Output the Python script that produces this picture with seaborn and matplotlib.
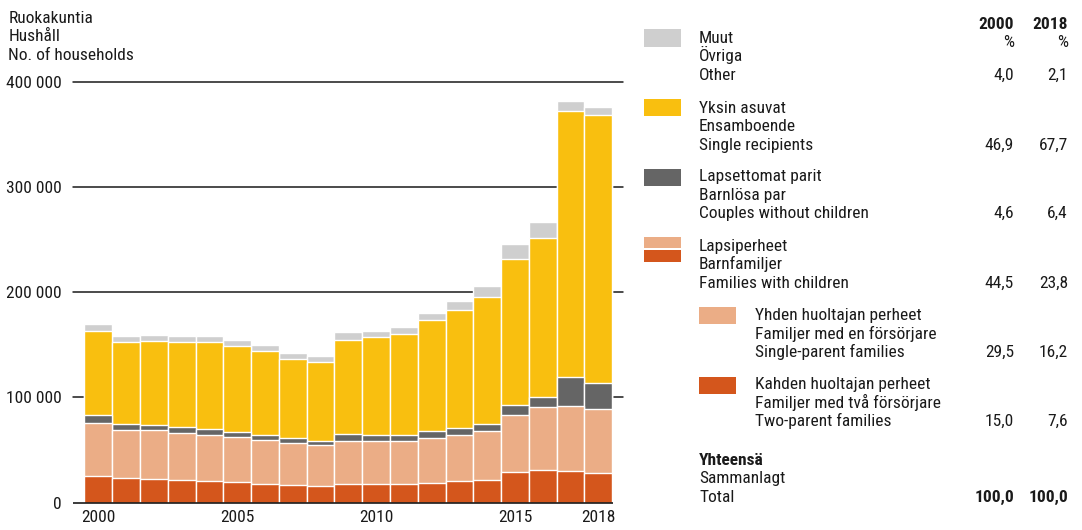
import matplotlib
matplotlib.use("Agg")
import matplotlib.pyplot as plt
from matplotlib import font_manager as fm
from matplotlib.patches import Rectangle
import seaborn as sns
import pandas as pd
import numpy as np

# ---------------- data ----------------
years = list(range(2000, 2019))
two_parent = [25.4, 23.4, 22.8, 21.9, 20.6, 19.3, 17.7, 16.5, 15.8, 17.7, 17.7, 17.4, 19.0, 20.3, 21.9, 28.8, 31.0, 30.4, 28.2]
single_parent = [50.2, 46.0, 45.9, 44.3, 44.0, 43.1, 41.8, 40.2, 39.0, 41.2, 40.9, 41.2, 42.4, 44.3, 46.5, 54.8, 59.6, 61.8, 61.1]
couples = [7.8, 5.7, 5.4, 5.7, 5.7, 4.7, 5.1, 4.7, 4.1, 6.3, 5.4, 5.7, 6.4, 6.3, 6.7, 9.2, 9.8, 26.9, 24.4]
singles = [79.7, 77.6, 79.2, 80.4, 82.4, 81.4, 79.5, 75.4, 75.1, 89.7, 93.4, 96.3, 105.7, 111.8, 120.3, 139.0, 151.4, 253.0, 254.9]
other = [6.8, 5.3, 6.0, 6.4, 6.0, 6.1, 5.7, 5.1, 5.0, 6.9, 6.0, 6.3, 6.7, 9.2, 10.1, 14.3, 15.2, 9.2, 7.4]
unit = 1000  # values above are in thousands of households

xtick_years = ["2000", "2005", "2010", "2015", "2018"]
ytick_values = [0, 100000, 200000, 300000, 400000]
ytick_labels = ["0", "100 000", "200 000", "300 000", "400 000"]
axis_title = ["Ruokakuntia", "Hushåll", "No. of households"]

legend_fi = ["Muut", "Yksin asuvat", "Lapsettomat parit", "Lapsiperheet",
             "Yhden huoltajan perheet", "Kahden huoltajan perheet"]
legend_sv = ["Övriga", "Ensamboende", "Barnlösa par", "Barnfamiljer",
             "Familjer med en försörjare", "Familjer med två försörjare"]
legend_en = ["Other", "Single recipients", "Couples without children",
             "Families with children", "Single-parent families", "Two-parent families"]
pct_2000 = ["4,0", "46,9", "4,6", "44,5", "29,5", "15,0"]
pct_2018 = ["2,1", "67,7", "6,4", "23,8", "16,2", "7,6"]
col_headers = ["2000", "2018"]
total_labels = ["Yhteensä", "Sammanlagt", "Total"]
total_values = ["100,0", "100,0"]

# ---------------- style ----------------
C_TWO = "#D4561C"
C_SP = "#EBAD86"
C_CPL = "#656565"
C_SGL = "#F9BF0F"
C_OTH = "#CFCFCF"
TXT = "#1a1a1a"

sns.set_theme(style="white")
names = {f.name for f in fm.fontManager.ttflist}
font = "Liberation Sans"
for cand in ["Liberation Sans Narrow", "Roboto Condensed", "DejaVu Sans Condensed",
             "Open Sans Condensed", "Liberation Sans"]:
    if cand in names:
        font = cand
        break
plt.rcParams["font.family"] = [font, "DejaVu Sans"]
FS = 12.5

W, H = 1082, 530
fig = plt.figure(figsize=(W / 100, H / 100), dpi=100)

# axes placement in pixels
ax_left, ax_right, ax_top, ax_bottom = 73, 623, 81.7, 502.7
ax = fig.add_axes([ax_left / W, 1 - ax_bottom / H, (ax_right - ax_left) / W, (ax_bottom - ax_top) / H])

df = pd.DataFrame({
    "year": [str(y) for y in years],
    "two": np.array(two_parent) * unit,
    "sp": np.array(single_parent) * unit,
    "cpl": np.array(couples) * unit,
    "sgl": np.array(singles) * unit,
    "oth": np.array(other) * unit,
})
df["c_two"] = df["two"]
df["c_sp"] = df["c_two"] + df["sp"]
df["c_cpl"] = df["c_sp"] + df["cpl"]
df["c_sgl"] = df["c_cpl"] + df["sgl"]
df["c_oth"] = df["c_sgl"] + df["oth"]

layers = [("c_oth", C_OTH), ("c_sgl", C_SGL), ("c_cpl", C_CPL), ("c_sp", C_SP), ("c_two", C_TWO)]
for col, color in layers:
    sns.barplot(data=df, x="year", y=col, color=color, saturation=1, width=1.0,
                edgecolor="white", linewidth=1.0, errorbar=None, ax=ax, zorder=2)

# pixel -> data conversions for x
spacing = (598.3 - 98.3) / 18
xl = -(98.3 - ax_left) / spacing
xr = 18 + (ax_right - 598.3) / spacing
ax.set_xlim(xl, xr)
ax.set_ylim(0, 400000)

for v in ytick_values[1:]:
    ax.axhline(v, color=TXT, lw=1.1, zorder=0.5, clip_on=False)
ax.hlines(0, xl, 18 + (613 - 598.3) / spacing, color=TXT, lw=1.2, zorder=3, clip_on=False)

for s in ax.spines.values():
    s.set_visible(False)
ax.set_xlabel("")
ax.set_ylabel("")
ax.set_yticks(ytick_values)
ax.set_yticklabels(ytick_labels)
xt = [years.index(int(y)) for y in xtick_years]
ax.set_xticks(xt)
ax.set_xticklabels(xtick_years)
ax.tick_params(axis="y", length=0, pad=8, labelsize=FS, labelcolor=TXT)
ax.tick_params(axis="x", length=0, pad=5, labelsize=FS, labelcolor=TXT)
ax.grid(False)


# ---------------- text & legend in pixel coords ----------------
def ftext(x, y, s, **kw):
    kw.setdefault("fontsize", FS)
    kw.setdefault("color", TXT)
    kw.setdefault("va", "baseline")
    fig.text(x / W, 1 - y / H, s, **kw)


def fbox(x0, y0, x1, y1, color):
    fig.patches.append(Rectangle((x0 / W, 1 - y1 / H), (x1 - x0) / W, (y1 - y0) / H,
                                 transform=fig.transFigure, facecolor=color, edgecolor="none"))


for i, s in enumerate(axis_title):
    ftext(8.3, 22.7 + i * 18.7, s)

X1, X2 = 1014, 1068
ftext(X1, 29.3, col_headers[0], ha="right", fontweight="bold")
ftext(X2, 29.3, col_headers[1], ha="right", fontweight="bold")
ftext(X1, 47.3, "%", ha="right")
ftext(X2, 47.3, "%", ha="right")

row_base = [42.7, 112.7, 181.0, 250.7, 320.0, 389.3]
row_text_x = [699, 699, 699, 699, 755, 755]
LS = 18.5
for i in range(6):
    b = row_base[i]
    tx = row_text_x[i]
    ftext(tx, b, legend_fi[i])
    ftext(tx, b + LS, legend_sv[i])
    ftext(tx, b + 2 * LS, legend_en[i])
    ftext(X1, b + 2 * LS, pct_2000[i], ha="right")
    ftext(X2, b + 2 * LS, pct_2018[i], ha="right")

fbox(644, 29.3, 681, 46.7, C_OTH)
fbox(644, 99.3, 681, 116.3, C_SGL)
fbox(644, 169.0, 681, 185.7, C_CPL)
fbox(644, 237.3, 681, 248.3, C_SP)
fbox(644, 250.0, 681, 261.7, C_TWO)
fbox(699, 307.3, 736, 324.3, C_SP)
fbox(699, 376.7, 736, 393.7, C_TWO)

ftext(699, 465.0, total_labels[0], fontweight="bold")
ftext(699, 465.0 + LS, total_labels[1])
ftext(699, 465.0 + 2 * LS, total_labels[2])
ftext(X1, 465.0 + 2 * LS, total_values[0], ha="right", fontweight="bold")
ftext(X2, 465.0 + 2 * LS, total_values[1], ha="right", fontweight="bold")

fig.savefig("out.png", dpi=100, facecolor="white")
